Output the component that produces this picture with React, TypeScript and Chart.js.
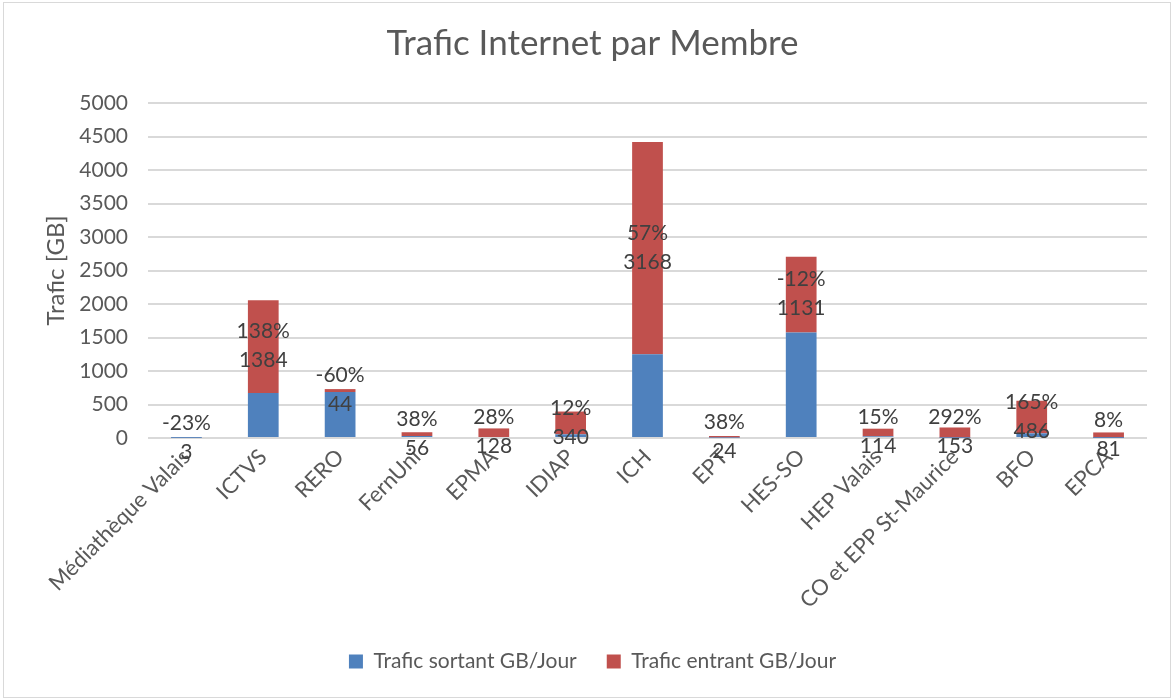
import React, { useEffect, useRef } from "react";
import { Chart, registerables } from "chart.js";

Chart.register(...registerables);

const categories = [
  "Médiathèque Valais",
  "ICTVS",
  "RERO",
  "FernUni",
  "EPMA",
  "IDIAP",
  "ICH",
  "EPT",
  "HES-SO",
  "HEP Valais",
  "CO et EPP St-Maurice",
  "BFO",
  "EPCA",
];
const sortant = [2, 672, 686, 30, 15, 55, 1250, 6, 1575, 25, 4, 70, 2];
const entrant = [3, 1384, 44, 56, 128, 340, 3168, 24, 1131, 114, 153, 486, 81];
const variation = ["-23%", "138%", "-60%", "38%", "28%", "12%", "57%", "38%", "-12%", "15%", "292%", "165%", "8%"];

const FONT = "Lato, 'Open Sans', sans-serif";
const TEXT = "#595959";
const LABEL = "#404040";
const PLOT_BOTTOM = 438;
const PAD_BOTTOM = 18;

const labelPlugin = {
  id: "redLabels",
  afterDatasetsDraw(chart: any) {
    const ctx = chart.ctx;
    const meta = chart.getDatasetMeta(1);
    const y = chart.scales.y;
    ctx.save();
    ctx.font = `21px ${FONT}`;
    ctx.fillStyle = LABEL;
    ctx.textAlign = "center";
    ctx.textBaseline = "middle";
    meta.data.forEach((bar: any, i: number) => {
      const mid = y.getPixelForValue(sortant[i] + entrant[i] / 2);
      ctx.fillText(String(entrant[i]), bar.x, mid + 14);
      ctx.fillText(variation[i], bar.x, mid - 15);
    });
    ctx.restore();
  },
};

export default function App() {
  const ref = useRef<HTMLCanvasElement>(null);
  useEffect(() => {
    if (!ref.current) return;
    const chart = new Chart(ref.current, {
      type: "bar",
      data: {
        labels: categories,
        datasets: [
          {
            label: "Trafic sortant GB/Jour",
            data: sortant,
            backgroundColor: "#4f81bd",
            categoryPercentage: 1,
            barPercentage: 0.4,
          },
          {
            label: "Trafic entrant GB/Jour",
            data: entrant,
            backgroundColor: "#c0504d",
            categoryPercentage: 1,
            barPercentage: 0.4,
          },
        ],
      },
      options: {
        animation: false,
        responsive: false,
        layout: { padding: { left: 38, right: 28, top: 3, bottom: PAD_BOTTOM } },
        scales: {
          x: {
            stacked: true,
            grid: { display: false, drawTicks: false },
            border: { display: false },
            ticks: {
              autoSkip: false,
              maxRotation: 45,
              minRotation: 45,
              padding: 6,
              color: TEXT,
              font: { family: FONT, size: 22 },
            },
            afterFit(scale: any) {
              const lh = scale.chart.legend ? scale.chart.legend.height : 0;
              scale.height = scale.chart.height - PAD_BOTTOM - lh - PLOT_BOTTOM;
            },
          },
          y: {
            stacked: true,
            min: 0,
            max: 5000,
            ticks: {
              stepSize: 500,
              padding: 20,
              color: TEXT,
              font: { family: FONT, size: 21 },
              callback: (v: any) => String(v),
            },
            grid: { color: "#d9d9d9", lineWidth: 2, drawTicks: false },
            border: { display: false },
            title: {
              display: true,
              text: "Trafic [GB]",
              color: TEXT,
              font: { family: FONT, size: 24 },
              padding: 4,
            },
            afterFit(scale: any) {
              scale.width = 110;
            },
          },
        },
        plugins: {
          title: {
            display: true,
            text: "Trafic Internet par Membre",
            color: TEXT,
            font: { family: FONT, size: 35, weight: "normal" },
            padding: { top: 20, bottom: 38 },
          },
          legend: {
            position: "bottom",
            labels: {
              color: TEXT,
              font: { family: FONT, size: 21 },
              boxWidth: 14,
              boxHeight: 14,
              padding: 30,
            },
          },
          tooltip: { enabled: false },
        },
      },
      plugins: [labelPlugin],
    });
    return () => chart.destroy();
  }, []);
  return (
    <div style={{ position: "absolute", left: 0, top: 0, width: 1175, height: 700, background: "#fff" }}>
      <div
        style={{
          position: "absolute",
          left: 3,
          top: 2,
          width: 1166,
          height: 694,
          border: "1px solid #d9d9d9",
        }}
      />
      <canvas ref={ref} width={1175} height={700} style={{ position: "absolute", left: 0, top: 0 }} />
    </div>
  );
}
